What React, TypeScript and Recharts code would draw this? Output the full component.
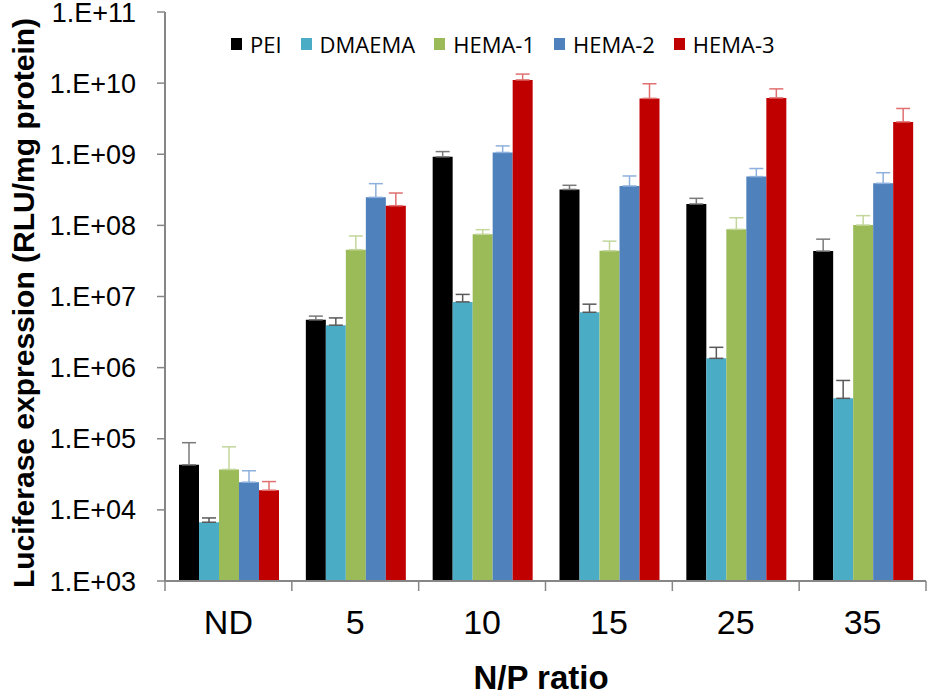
import { BarChart, Bar, XAxis, YAxis, ErrorBar } from 'recharts'

const categories = ['ND', '5', '10', '15', '25', '35']

const pei = [4.3e4, 4.7e6, 9.2e8, 3.2e8, 2.0e8, 4.35e7]
const peiErr = [4.5e4, 0.6e6, 1.7e8, 0.46e8, 0.4e8, 2.05e7]
const dmaema = [6.7e3, 3.95e6, 8.4e6, 6.0e6, 1.35e6, 3.7e5]
const dmaemaErr = [1.0e3, 1.05e6, 2.3e6, 1.8e6, 0.58e6, 2.9e5]
const hema1 = [3.7e4, 4.55e7, 7.5e7, 4.4e7, 8.8e7, 1.01e8]
const hema1Err = [4.0e4, 2.55e7, 1.2e7, 1.6e7, 4.0e7, 3.6e7]
const hema2 = [2.45e4, 2.48e8, 1.06e9, 3.58e8, 4.85e8, 3.9e8]
const hema2Err = [1.1e4, 1.38e8, 2.5e8, 1.37e8, 1.45e8, 1.6e8]
const hema3 = [1.89e4, 1.89e8, 1.11e10, 6.1e9, 6.2e9, 2.85e9]
const hema3Err = [0.61e4, 0.96e8, 2.3e9, 3.7e9, 2.1e9, 1.55e9]

const yTicks = [1e3, 1e4, 1e5, 1e6, 1e7, 1e8, 1e9, 1e10, 1e11]

const SERIES = [
  { key: 'pei', name: 'PEI', values: pei, errors: peiErr, color: '#000000', errColor: '#7a7a7a' },
  { key: 'dmaema', name: 'DMAEMA', values: dmaema, errors: dmaemaErr, color: '#4bacc6', errColor: '#595959' },
  { key: 'hema1', name: 'HEMA-1', values: hema1, errors: hema1Err, color: '#9bbb59', errColor: '#c3d69b' },
  { key: 'hema2', name: 'HEMA-2', values: hema2, errors: hema2Err, color: '#4f81bd', errColor: '#8eb0dc' },
  { key: 'hema3', name: 'HEMA-3', values: hema3, errors: hema3Err, color: '#c00000', errColor: '#e07070' },
]

const data = categories.map((cat, i) => {
  const row: Record<string, any> = { cat }
  SERIES.forEach(s => {
    row[s.key] = s.values[i]
    row[s.key + 'Err'] = [0, s.errors[i]]
  })
  return row
})

const W = 928
const H = 698
const LEFT = 165
const RIGHT = 2
const BAND = (W - LEFT - RIGHT) / categories.length
const AXIS = '#868686'
const FONT = 'Liberation Sans, Arial, sans-serif'

const fmtExp = (v: number) => {
  const e = Math.round(Math.log10(v))
  return '1.E+' + String(e).padStart(2, '0')
}

function XTick(props: any) {
  const { x, y, payload, index } = props
  const half = BAND / 2
  return (
    <g>
      <line x1={x - half} y1={y} x2={x - half} y2={y + 10} stroke={AXIS} strokeWidth={1.5} />
      {index === categories.length - 1 && (
        <line x1={x + half} y1={y} x2={x + half} y2={y + 10} stroke={AXIS} strokeWidth={1.5} />
      )}
      <text x={x} y={y + 53} textAnchor="middle" fontSize={34} fill="#000" fontFamily={FONT}>
        {payload.value}
      </text>
    </g>
  )
}

function LegendRow() {
  return (
    <div
      style={{
        position: 'absolute', top: 32, left: 231,
        display: 'flex', alignItems: 'center',
        fontFamily: '"Open Sans", sans-serif', fontSize: 22, color: '#000', lineHeight: '24px',
      }}
    >
      {SERIES.map(s => (
        <div key={s.key} style={{ display: 'flex', alignItems: 'center', marginRight: 19 }}>
          <span style={{ display: 'inline-block', width: 11, height: 12, background: s.color, marginRight: 8 }} />
          <span>{s.name}</span>
        </div>
      ))}
    </div>
  )
}

export default function App() {
  return (
    <div style={{ position: 'absolute', left: 0, top: 0, width: W, height: H, background: '#fff' }}>
      <BarChart
        width={W}
        height={H}
        data={data}
        margin={{ top: 12, right: RIGHT, left: 0, bottom: 0 }}
        barCategoryGap={14}
        barGap={0}
      >
        <XAxis
          dataKey="cat"
          height={117}
          tickLine={false}
          tickSize={0}
          tickMargin={0}
          axisLine={{ stroke: AXIS, strokeWidth: 2 }}
          tick={<XTick />}
          interval={0}
          label={{
            content: () => (
              <text x={541} y={689} textAnchor="middle" fontSize={33} fontWeight="bold" fill="#000" fontFamily={FONT}>
                N/P ratio
              </text>
            ),
          }}
        />
        <YAxis
          width={LEFT}
          scale="log"
          domain={[1e3, 1e11]}
          ticks={yTicks}
          allowDataOverflow
          interval={0}
          tickFormatter={fmtExp}
          tickSize={8}
          tickMargin={21}
          tickLine={{ stroke: AXIS, strokeWidth: 1.5 }}
          axisLine={{ stroke: AXIS, strokeWidth: 2 }}
          tick={{ fontSize: 27, fill: '#000', fontFamily: FONT }}
          label={{
            content: () => (
              <text
                x={23}
                y={303}
                transform="rotate(-90 23 303)"
                textAnchor="middle"
                dominantBaseline="central"
                fontSize={30}
                fontWeight="bold"
                fill="#000"
                fontFamily={FONT}
              >
                Luciferase expression (RLU/mg protein)
              </text>
            ),
          }}
        />
        {SERIES.map(s => (
          <Bar key={s.key} dataKey={s.key} name={s.name} fill={s.color} isAnimationActive={false}>
            <ErrorBar dataKey={s.key + 'Err'} direction="y" width={7} stroke={s.errColor} strokeWidth={1.5} isAnimationActive={false} />
          </Bar>
        ))}
      </BarChart>
      <LegendRow />
    </div>
  )
}
